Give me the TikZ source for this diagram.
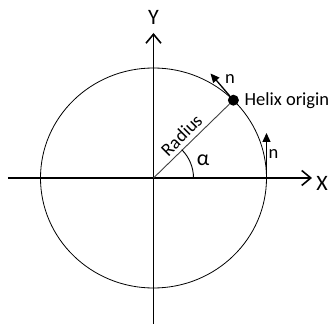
\documentclass[tikz,border=0pt]{standalone}
\usepackage{fontspec}
\setmainfont{Carlito}
\usepackage{tikz}
\usetikzlibrary{arrows.meta,positioning}

\begin{document}
\begin{tikzpicture}[x=1pt,y=1pt]
\useasboundingbox (-153.5,-146) rectangle (176.5,178);
\coordinate (o) at (0,0);
\coordinate (xl) at (-145.5,0);
\coordinate (xr) at (158.5,0);
\coordinate (yb) at (0,-146);
\coordinate (yt) at (0,145);
\coordinate (t1) at (57,104.5);
\coordinate (s2) at (113,0);
\coordinate (t2) at (113,45);

\draw[line width=0.8pt] (o) ellipse [x radius=113, y radius=110];
\draw[line width=1.6pt,-{Straight Barb[length=9pt,width=15pt]}] (xl) -- (xr);
\draw[line width=1.6pt,-{Straight Barb[length=9pt,width=15pt]}] (yb) -- (yt);

\node[circle,fill=black,inner sep=0pt,minimum size=11pt] (dot) at (79.9,77.8) {};
\draw[line width=0.9pt,black!75] (o) -- (dot);
\draw[line width=0.9pt] (40,0) arc [start angle=0, end angle=45, radius=40];

\draw[line width=1.3pt,-{Triangle[length=9pt,width=8pt]}] (dot) -- (t1);
\draw[line width=1.3pt,-{Triangle[length=9pt,width=8pt]}] (s2) -- (t2);

\node[font=\fontsize{22}{24}\selectfont] (ylab) at (0,161) {Y};
\node[font=\fontsize{22}{24}\selectfont] (xlab) at (168.5,-5) {X};
\node[font=\fontsize{18.5}{20}\selectfont,right=2pt of dot] (hel) {Helix origin};
\node[font=\fontsize{18.5}{20}\selectfont] (n1) at (76.5,99) {n};
\node[font=\fontsize{18.5}{20}\selectfont] (n2) at (120,24) {n};
\node[font=\fontsize{22}{24}\selectfont] (alp) at (49.5,18) {α};
\node[font=\fontsize{18.5}{20}\selectfont,rotate=45] (rad) at (28,43) {Radius};
\end{tikzpicture}
\end{document}
